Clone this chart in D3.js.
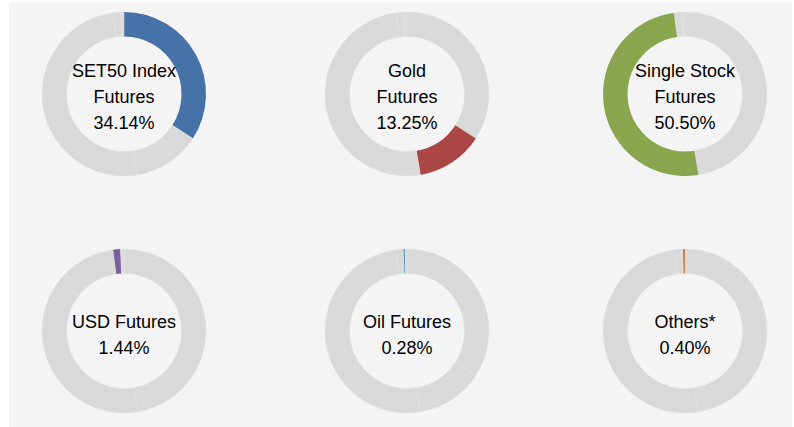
<!DOCTYPE html>
<html>
<head>
<meta charset="utf-8">
<script src="https://cdn.jsdelivr.net/npm/d3@7"></script>
<style>
  html, body { margin: 0; padding: 0; background: #ffffff; }
  svg { display: block; }
</style>
</head>
<body>
<svg id="chart"></svg>
<script>
// contract shares, one donut per product
const products = ["SET50 Index Futures", "Gold Futures", "Single Stock Futures", "USD Futures", "Oil Futures", "Others*"];
const labelLines = [["SET50 Index", "Futures"], ["Gold", "Futures"], ["Single Stock", "Futures"], ["USD Futures"], ["Oil Futures"], ["Others*"]];
const shares = [34.14, 13.25, 50.50, 1.44, 0.28, 0.40];
const shareLabels = ["34.14%", "13.25%", "50.50%", "1.44%", "0.28%", "0.40%"];
const colors = ["#4572a7", "#aa4643", "#89a54e", "#7d5fa0", "#4198af", "#c8824a"];

const w = 794;
const h = 427;
const outerR = 82;
const innerR = 57.5;

const svg = d3.select("#chart")
  .attr("width", w)
  .attr("height", h);

svg.append("rect")
  .attr("x", 9)
  .attr("y", 2)
  .attr("width", 783)
  .attr("height", 425)
  .attr("fill", "#f4f4f4");

const xPos = d3.scalePoint().domain([0, 1, 2]).range([124, 685]);
const yPos = d3.scalePoint().domain([0, 1]).range([94, 331]);

const pie = d3.pie().sort(null).value((d) => d);
const arc = d3.arc().innerRadius(innerR).outerRadius(outerR);
const slices = pie(shares);

products.forEach((name, i) => {
  const cx = i % 3 === 1 ? 407 : xPos(i % 3);
  const g = svg.append("g")
    .attr("transform", "translate(" + cx + "," + yPos(Math.floor(i / 3)) + ")");

  g.selectAll("path")
    .data(slices)
    .enter()
    .append("path")
    .attr("d", arc)
    .attr("fill", (d, j) => j === i ? colors[i] : "#d9d9d9")
    .attr("stroke", (d, j) => j === i ? "none" : "#e2e2e2")
    .attr("stroke-width", 0.5);

  const lines = labelLines[i].concat([shareLabels[i]]);
  const top = lines.length === 3 ? -17 : -3;
  g.selectAll("text")
    .data(lines)
    .enter()
    .append("text")
    .attr("x", 0)
    .attr("y", (d, k) => top + k * 26)
    .attr("text-anchor", "middle")
    .attr("font-family", "Liberation Sans, Arial, sans-serif")
    .attr("font-size", 18)
    .attr("fill", "#000")
    .text((d) => d);
});
</script>
</body>
</html>
